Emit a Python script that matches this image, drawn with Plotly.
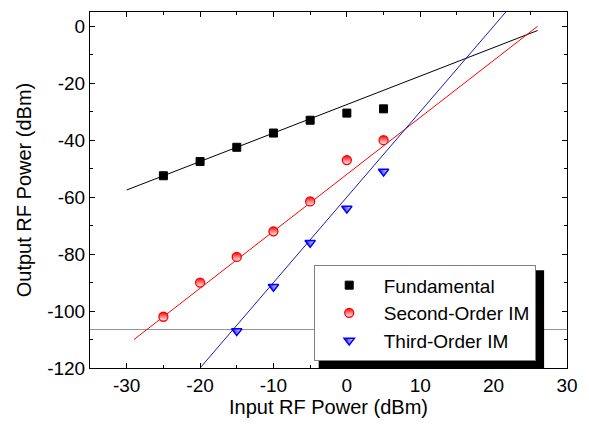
import plotly.graph_objects as go

# Measured data
input_power = [-25, -20, -15, -10, -5, 0, 5]
fundamental = [-52.5, -47.5, -42.5, -37.5, -33, -30.5, -29]
second_order = [-102, -90, -81, -72, -61.5, -47, -40]
third_x = [-15, -10, -5, 0, 5]
third_order = [-107, -91.5, -76, -64, -51]

# Fitted lines
fund_fit_x = [-30, 26]
fund_fit_y = [-57.5, -1.5]
second_fit_x = [-29, 26]
second_fit_y = [-110, 0]
third_fit_x = [-20, 22]
third_fit_y = [-120, 6]

noise_floor = -106.5

# Tick labels
x_ticks = [-30, -20, -10, 0, 10, 20, 30]
x_ticklabels = ["-30", "-20", "-10", "0", "10", "20", "30"]
y_ticks = [-120, -100, -80, -60, -40, -20, 0]
y_ticklabels = ["-120", "-100", "-80", "-60", "-40", "-20", "0"]

FONT = "Liberation Sans, Arial, sans-serif"

fig = go.Figure()

fig.add_trace(go.Scatter(x=fund_fit_x, y=fund_fit_y, mode="lines",
                         line=dict(color="black", width=1), showlegend=False))
fig.add_trace(go.Scatter(x=second_fit_x, y=second_fit_y, mode="lines",
                         line=dict(color="red", width=1), showlegend=False))
fig.add_trace(go.Scatter(x=third_fit_x, y=third_fit_y, mode="lines",
                         line=dict(color="#1a1ab0", width=1), showlegend=False))

fig.add_trace(go.Scatter(x=input_power, y=fundamental, mode="markers", name="Fundamental",
                         marker=dict(symbol="square", size=8, color="black",
                                     line=dict(color="black", width=1))))
fig.add_trace(go.Scatter(x=input_power, y=second_order, mode="markers", name="Second-Order IM",
                         marker=dict(symbol="circle", size=9, color="red",
                                     gradient=dict(type="vertical", color="white"),
                                     line=dict(color="red", width=1.3))))
fig.add_trace(go.Scatter(x=third_x, y=third_order, mode="markers", name="Third-Order IM",
                         marker=dict(symbol="triangle-down", size=9, color="blue",
                                     gradient=dict(type="horizontal", color="white"),
                                     line=dict(color="blue", width=1.5))))

fig.add_shape(type="line", xref="paper", x0=0, x1=1, yref="y", y0=noise_floor, y1=noise_floor,
              line=dict(color="#909090", width=1), layer="below")

# legend shadow, offset a few px right/down from the legend box
fig.add_shape(type="rect", xref="paper", yref="paper", x0=0.4794, x1=0.952, y0=0.0, y1=0.2745,
              fillcolor="black", line=dict(width=0), layer="above")

axis_common = dict(showgrid=False, zeroline=False, showline=True, linecolor="black", linewidth=1,
                   mirror="ticks", ticks="inside", ticklen=5, tickcolor="black",
                   tickfont=dict(family=FONT, size=19, color="black"),
                   minor=dict(ticks="inside", ticklen=3, tickcolor="black"))

fig.update_layout(
    width=589, height=428,
    margin=dict(l=90, r=13, t=11, b=60),
    paper_bgcolor="white", plot_bgcolor="white",
    font=dict(family=FONT, color="black"),
    xaxis=dict(range=[-35, 30], tickmode="array", tickvals=x_ticks, ticktext=x_ticklabels,
               title=dict(text="Input RF Power (dBm)", font=dict(family=FONT, size=20), standoff=4),
               **axis_common),
    yaxis=dict(range=[-120, 5], tickmode="array", tickvals=y_ticks, ticktext=y_ticklabels,
               title=dict(text="Output RF Power (dBm)", font=dict(family=FONT, size=20), standoff=10),
               **axis_common),
    legend=dict(x=0.469, y=0.2885, xanchor="left", yanchor="top",
                bgcolor="white", bordercolor="#808080", borderwidth=1,
                font=dict(family=FONT, size=19, color="black"),
                itemwidth=59, tracegroupgap=0),
)
fig.update_xaxes(minor=dict(tickmode="linear", tick0=-35, dtick=5))
fig.update_yaxes(minor=dict(tickmode="linear", tick0=-120, dtick=10))

fig.write_html("out.html")
